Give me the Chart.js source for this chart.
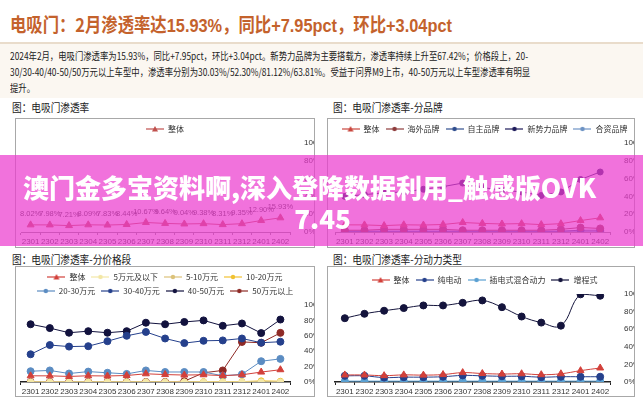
<!DOCTYPE html>
<html>
<head>
<meta charset="utf-8">
<script src="https://cdn.jsdelivr.net/npm/chart.js@4.4.1/dist/chart.umd.min.js"></script>
<style>
  html, body { margin: 0; padding: 0; background: #fff; }
  body { width: 643px; height: 400px; position: relative; overflow: hidden; font-family: "Noto Sans CJK SC", sans-serif; color: #222; }
  #title { position: absolute; left: 10px; top: 10px; font-size: 19px; font-weight: bold; color: #c4622c; white-space: nowrap; line-height: 28px; transform: scaleX(0.86); transform-origin: left center; }
  #title .n { font-family: "Liberation Sans", Arial, sans-serif; }
  #rule { position: absolute; left: 0; top: 42px; width: 643px; height: 2px; background: #e9dccb; }
  #para { position: absolute; left: 0; top: 44px; width: 643px; height: 54px; background: #fbf7f1; }
  .line { position: absolute; left: 10px; font-size: 10.5px; white-space: nowrap; line-height: 16px; color: #222; transform: scaleX(0.795); transform-origin: left center; }
  .cap { position: absolute; left: 12px; font-size: 11.5px; white-space: nowrap; color: #222; line-height: 16px; transform: scaleX(0.84); transform-origin: left center; }
  .box { position: absolute; border: 1px solid #a8a8a8; box-sizing: border-box; }
  canvas { position: absolute; }
  #mark { position: absolute; left: 0; top: 155px; width: 643px; height: 91px; background: rgba(236, 60, 206, 0.72); }
  .mk { position: absolute; left: 0; width: 643px; text-align: center; color: #fff; font-weight: 900; font-size: 26px; white-space: nowrap; line-height: 32px; }
</style>
</head>
<body>
<div id="title">电吸门：2月渗透率达<span class="n">15.93%</span>，同比<span class="n">+7.95pct</span>，环比<span class="n">+3.04pct</span></div>
<div id="rule"></div>
<div id="para"></div>
<div class="line" style="top:48px">2024年2月，电吸门渗透率为15.93%，同比+7.95pct，环比+3.04pct。新势力品牌为主要搭载方，渗透率持续上升至67.42%；价格段上，20-</div>
<div class="line" style="top:64px">30/30-40/40-50/50万元以上车型中，渗透率分别为30.03%/52.30%/81.12%/63.81%。受益于问界M9上市，40-50万元以上车型渗透率有明显</div>
<div class="line" style="top:80px">提升。</div>

<div class="cap" style="top:99px">图：电吸门渗透率</div>
<div class="cap" style="left:333px; top:99px">图：电吸门渗透率-分品牌</div>
<div class="cap" style="top:251px">图：电吸门渗透率-分价格段</div>
<div class="cap" style="left:333px; top:251px">图：电吸门渗透率-分动力类型</div>

<div class="box" style="left:15px; top:118px; width:300px; height:130px"></div>
<div class="box" style="left:327px; top:118px; width:308px; height:130px"></div>
<div class="box" style="left:15px; top:266px; width:300px; height:131px"></div>
<div class="box" style="left:327px; top:266px; width:308px; height:131px"></div>

<canvas id="c1" width="298" height="128" style="left:16px; top:119px"></canvas>
<canvas id="c2" width="306" height="128" style="left:328px; top:119px"></canvas>
<canvas id="c3" width="298" height="129" style="left:16px; top:267px"></canvas>
<canvas id="c4" width="306" height="129" style="left:328px; top:267px"></canvas>

<div id="mark">
  <div class="mk" style="top:16px; left:-12px">澳门金多宝资料啊,深入登降数据利用_触感版OVK</div>
  <div class="mk" style="top:47px; left:1px">7.45</div>
</div>

<script>
// months on the x axis
const months = ['2301', '2302', '2303', '2304', '2305', '2306', '2307', '2308', '2309', '2310', '2311', '2312', '2401', '2402'];
const yTicks = [0, 20, 40, 60, 80, 100];

// overall penetration (%)
const overallRate = [8.02, 7.98, 7.21, 8.09, 7.83, 8.44, 10.67, 9.64, 9.04, 9.38, 8.31, 9.35, 12.90, 15.93];

// by brand type (%)
const brandOverseas = [2, 2, 3, 3, 3, 3, 2, 2, 2, 2, 2, 3, 5, 4];
const brandDomestic = [1, 1, 1, 1, 1, 1, 1, 1, 1, 1, 1, 1, 2, 2];
const brandNewForce = [40, 42, 44, 45, 48, 51, 55, 50, 47, 45, 41, 45, 59, 67.42];
const brandJV = [0.5, 0.5, 0.5, 0.5, 0.5, 0.5, 0.5, 0.5, 0.5, 0.5, 0.5, 0.5, 0.5, 0.5];

// by price band (%)
const priceBelow5 = [0, 0, 0, 0, 0, 0, 0, 0, 0, 0, 0, 0, 0, 0];
const price5to10 = [0, 0, 0, 0, 0, 0, 0, 0, 0, 0, 0, 0, 0, 0];
const price10to20 = [0, 0, 0, 0, 0, 0, 0, 0, 0, 0.5, 0.5, 0.5, 1.5, 1];
const price20to30 = [14, 15, 11, 13.5, 12, 10.5, 15, 13, 13, 13, 8, 10, 27, 30.03];
const price30to40 = [36, 48, 46, 46.5, 53, 60, 65, 56.5, 50.5, 53.5, 54, 56.5, 51, 52.30];
const price40to50 = [75, 70, 64, 66, 64, 66, 77, 75, 78, 80, 73, 76, 63.5, 81.12];
const priceAbove50 = [0, 0, 0, 0, 0, 0, 0, 0, 1, 12, 15, 52, 51, 63.81];

// by powertrain (%)
const powerBEV = [7, 7, 5, 5.5, 5.5, 6, 7.5, 7, 6.5, 6.5, 5.5, 6, 6, 6];
const powerPHEV = [1, 1, 1, 1, 1, 1, 1, 1, 1, 1, 1, 1, 1, 1];
const powerEREV = [72.5, 77.5, 81, 84, 87, 87, 90, 92.7, 85, 74.4, 67.5, 64, 99.6, 98];

Chart.defaults.font.family = '"Liberation Sans", "Noto Sans CJK SC", sans-serif';

// small line+marker picture for legend entries
function legendIcon(color, shape) {
    const c = document.createElement('canvas');
    c.width = 18; c.height = 8;
    const g = c.getContext('2d');
    g.strokeStyle = color; g.lineWidth = 1.2;
    g.beginPath(); g.moveTo(0, 4); g.lineTo(18, 4); g.stroke();
    g.fillStyle = color; g.beginPath();
    if (shape === 'triangle') { g.moveTo(9, 1); g.lineTo(12, 6.5); g.lineTo(6, 6.5); g.closePath(); }
    else g.arc(9, 4, 2.2, 0, Math.PI * 2);
    g.fill();
    return c;
}

function series(label, data, color, shape, radius, tension) {
    return {
        label: label, data: data,
        borderColor: color, backgroundColor: color,
        pointBackgroundColor: color, pointBorderColor: color,
        pointStyle: shape, pointRadius: radius, borderWidth: 1,
        tension: tension || 0
    };
}

// percent labels above the overall line
const pointLabels = {
    id: 'pointLabels',
    afterDatasetsDraw(chart) {
        const ctx = chart.ctx;
        const meta = chart.getDatasetMeta(0);
        ctx.save();
        ctx.font = '7.5px "Liberation Sans"';
        ctx.fillStyle = '#333';
        ctx.textAlign = 'center';
        ctx.textBaseline = 'middle';
        meta.data.forEach((pt, i) => {
            ctx.fillText(overallRate[i].toFixed(2) + '%', pt.x, pt.y - 11);
        });
        ctx.restore();
    }
};

function makeChart(id, datasets, cfg) {
    return new Chart(document.getElementById(id), {
        type: 'line',
        data: { labels: months, datasets: datasets },
        options: {
            responsive: false,
            animation: false,
            layout: { padding: { left: cfg.left, top: cfg.top, right: 0, bottom: 0 } },
            plugins: {
                tooltip: { enabled: false },
                legend: {
                    position: 'top',
                    labels: {
                        usePointStyle: true,
                        pointStyleWidth: 18,
                        padding: 6,
                        color: '#333',
                        font: { size: 8, family: '"Noto Sans CJK SC"' },
                        generateLabels: chart => chart.data.datasets.map((ds, i) => ({
                            text: ds.label,
                            pointStyle: legendIcon(ds.borderColor, ds.pointStyle),
                            fontColor: '#333',
                            hidden: false,
                            datasetIndex: i,
                            lineWidth: 0,
                            strokeStyle: 'rgba(0,0,0,0)',
                            fillStyle: 'rgba(0,0,0,0)'
                        }))
                    }
                }
            },
            scales: {
                x: {
                    offset: true,
                    grid: { display: true, offset: true, drawOnChartArea: false, tickLength: 3, color: cfg.axisColor },
                    border: { color: cfg.axisColor, width: cfg.axisWidth },
                    ticks: { font: { size: 8 }, color: '#333', padding: 2, maxRotation: 0, autoSkip: false },
                    afterFit: s => { s.height = cfg.xh; }
                },
                y: {
                    position: 'right',
                    min: 0, max: 100,
                    grid: { display: false },
                    border: { display: false },
                    afterBuildTicks: s => { s.ticks = yTicks.map(v => ({ value: v })); },
                    ticks: { font: { size: 8 }, color: '#333', padding: 6, callback: v => v + '%' },
                    afterFit: s => { s.width = 24; }
                }
            }
        },
        plugins: cfg.plugins || []
    });
}

makeChart('c1', [
    series('整体', overallRate, '#c0504d', 'triangle', 4)
], { left: 0, top: 0, xh: 15, axisColor: '#888', axisWidth: 1, plugins: [pointLabels] });

makeChart('c2', [
    series('整体', overallRate, '#c9463d', 'triangle', 4),
    series('海外品牌', brandOverseas, '#8e3b3b', 'circle', 3.5),
    series('自主品牌', brandDomestic, '#2f4d8e', 'circle', 3.5),
    series('新势力品牌', brandNewForce, '#1d1a5a', 'circle', 3),
    series('合资品牌', brandJV, '#6d93c4', 'circle', 3.5)
], { left: 7, top: 0, xh: 15, axisColor: '#888', axisWidth: 1 });

makeChart('c3', [
    series('整体', overallRate, '#d2403a', 'triangle', 4),
    series('5万元及以下', priceBelow5, '#f3e7a6', 'circle', 3),
    series('5-10万元', price5to10, '#dcc27a', 'circle', 3),
    series('10-20万元', price10to20, '#f1c232', 'circle', 3),
    series('20-30万元', price20to30, '#5b8cc2', 'circle', 3.5),
    series('30-40万元', price30to40, '#25408c', 'circle', 3.5),
    series('40-50万元', price40to50, '#12123e', 'circle', 3.5),
    series('50万元以上', priceAbove50, '#8e2a26', 'circle', 3.5)
], { left: 0, top: 0, xh: 14, axisColor: '#222', axisWidth: 1.5 });

makeChart('c4', [
    series('整体', overallRate, '#d2403a', 'triangle', 4, 0.4),
    series('纯电动', powerBEV, '#25408c', 'circle', 3.5, 0.4),
    series('插电式混合动力', powerPHEV, '#5aa0d2', 'circle', 3.5, 0.4),
    series('增程式', powerEREV, '#14143c', 'circle', 3.5, 0.4)
], { left: 7, top: 3, xh: 14, axisColor: '#222', axisWidth: 1.5 });
</script>
</body>
</html>
